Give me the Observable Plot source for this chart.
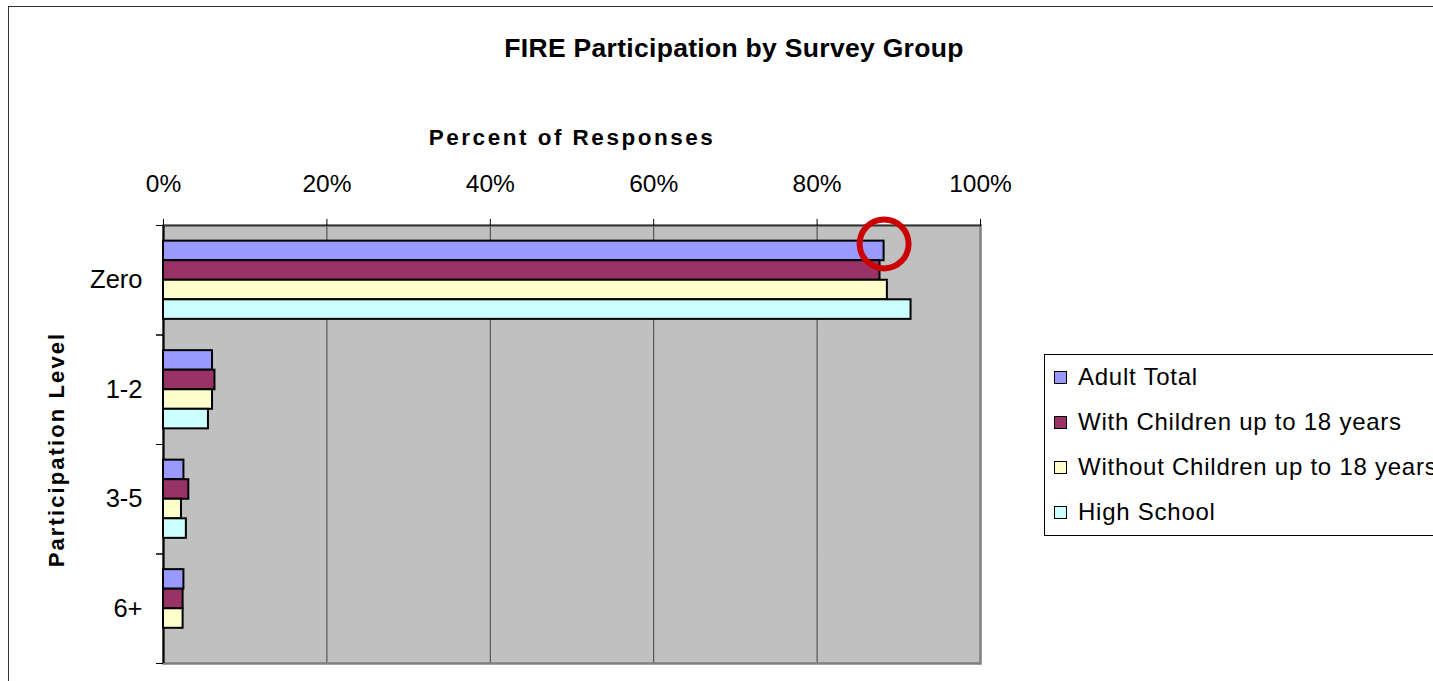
<!DOCTYPE html>
<html>
<head>
<meta charset="utf-8">
<script src="https://cdn.jsdelivr.net/npm/d3@7"></script>
<script src="https://cdn.jsdelivr.net/npm/@observablehq/plot@0.6"></script>
<style>
  html, body { margin: 0; padding: 0; width: 1433px; height: 681px; overflow: hidden; background: #fff; }
  body { position: relative; font-family: "Liberation Sans", Arial, sans-serif; }
  #border { position: absolute; left: 8px; top: 6px; width: 2000px; height: 2000px; border: 1.5px solid #333; pointer-events: none; z-index: 5; }
  #title { position: absolute; left: 0; top: 30px; width: 1468px; text-align: center; font-weight: bold; font-size: 26.5px; line-height: 36px; letter-spacing: 0.3px; color: #000; }
  #chart { position: absolute; left: 0; top: 100px; }
  #legend { position: absolute; left: 1044px; top: 354px; width: 500px; height: 180px; border: 1px solid #000; background: #fff; }
  .row { height: 45px; display: flex; align-items: center; padding-left: 9px; }
  .row:first-child { margin-top: -0.5px; }
  .sw { width: 11px; height: 11px; border: 1.5px solid #000; margin-right: 11px; flex: none; }
  .lab { font-size: 24px; letter-spacing: 0.75px; white-space: nowrap; color: #000; }
</style>
</head>
<body>
<div id="title">FIRE Participation by Survey Group</div>
<div id="chart"></div>
<div id="legend"></div>
<div id="border"></div>
<script>
// ---- data ----
const levels = ["Zero", "1-2", "3-5", "6+"];
const series = ["Adult Total", "With Children up to 18 years", "Without Children up to 18 years", "High School"];
const adultTotal      = [88.2, 6.0, 2.5, 2.5];
const withChildren    = [87.7, 6.3, 3.1, 2.4];
const withoutChildren = [88.6, 6.0, 2.2, 2.4];
const highSchool      = [91.5, 5.5, 2.8, 0];
const xTicks = [0, 20, 40, 60, 80, 100];
const gridTicks = [20, 40, 60, 80];
const colors = ["#9999ff", "#993366", "#ffffcc", "#ccffff"];
const highlightLevel = "Zero";
const highlightSeries = "Adult Total";

const values = [adultTotal, withChildren, withoutChildren, highSchool];
const data = levels.flatMap((level, i) =>
  series.map((s, j) => ({level, series: s, value: values[j][i]}))
).filter(d => d.value > 0);

// ---- layout ----
const W = 1000, H = 581, mt = 125, mb = 18, ml = 163, mr = 20;
const fh = (H - mt - mb) / levels.length;

const chart = Plot.plot({
  width: W, height: H,
  marginTop: mt, marginBottom: mb, marginLeft: ml, marginRight: mr,
  style: {background: "transparent", fontFamily: "'Liberation Sans', Arial, sans-serif", overflow: "visible"},
  x: {domain: [0, 100]},
  y: {domain: series, paddingInner: 0, paddingOuter: 0.8, round: false, axis: null},
  fy: {domain: levels, padding: 0, round: false, axis: null},
  color: {domain: series, range: colors},
  marks: [
    Plot.frame({facet: "super", fill: "#c0c0c0", stroke: "none"}),
    Plot.gridX(gridTicks, {stroke: "#404040", strokeOpacity: 1, strokeWidth: 1}),
    Plot.frame({facet: "super", fill: "none", stroke: "#808080", strokeWidth: 2.5}),
    Plot.frame({facet: "super", anchor: "top", stroke: "#333", strokeWidth: 1.5}),
    Plot.ruleX([0], {stroke: "#000", strokeWidth: 2}),
    Plot.barX(data, {x: "value", y: "series", fy: "level", fill: "series", stroke: "#000", strokeWidth: 2}),
    Plot.dot(data.filter(d => d.level === highlightLevel && d.series === highlightSeries),
      {x: "value", y: "series", fy: "level", r: 24.5, fill: "none", stroke: "#cc0000", strokeWidth: 6, dy: -7}),
    Plot.axisX({anchor: "top", ticks: xTicks, tickFormat: d => d + "%", tickSize: 7, tickPadding: 27, fontSize: 24.5, label: null, stroke: "#000"}),
    Plot.axisFy({anchor: "left", tickSize: 0, tickPadding: 21, fontSize: 25.5, label: null}),
    Plot.axisFy({anchor: "left", tickSize: 7, tickFormat: () => "", dy: -fh / 2, label: null, stroke: "#000"}),
    Plot.axisFy({anchor: "left", tickSize: 7, tickFormat: () => "", dy: fh / 2, label: null, stroke: "#000"}),
    Plot.text(["Percent of Responses"], {facet: "super", frameAnchor: "top", textAnchor: "middle", lineAnchor: "middle", dy: -88, fontWeight: "bold", fontSize: 22.5}),
    Plot.text(["Participation Level"], {facet: "super", frameAnchor: "left", textAnchor: "middle", lineAnchor: "middle", rotate: -90, dx: -107, dy: 5, fontWeight: "bold", fontSize: 22})
  ]
});

d3.select(chart).selectAll("text")
  .filter(function() { return this.textContent === "Percent of Responses"; })
  .style("letter-spacing", "2.5px");
d3.select(chart).selectAll("text")
  .filter(function() { return this.textContent === "Participation Level"; })
  .style("letter-spacing", "2.1px");

document.getElementById("chart").appendChild(chart);

// ---- legend ----
const legend = d3.select("#legend");
series.forEach((s, i) => {
  const row = legend.append("div").attr("class", "row");
  row.append("div").attr("class", "sw").style("background", colors[i]);
  row.append("span").attr("class", "lab").text(s);
});
</script>
</body>
</html>
